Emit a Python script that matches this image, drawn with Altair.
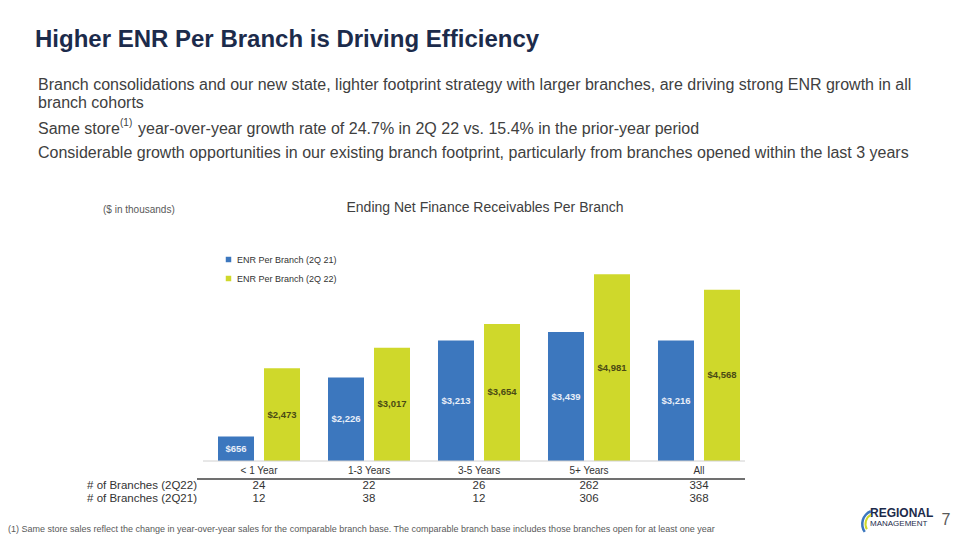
import altair as alt
import pandas as pd

# ---- data -------------------------------------------------------------
categories = ["< 1 Year", "1-3 Years", "3-5 Years", "5+ Years", "All"]
series = ["ENR Per Branch (2Q 21)", "ENR Per Branch (2Q 22)"]
enr_2q21 = [656, 2226, 3213, 3439, 3216]
enr_2q22 = [2473, 3017, 3654, 4981, 4568]
branches_2q22 = [24, 22, 26, 262, 334]
branches_2q21 = [12, 38, 12, 306, 368]
row_labels = ["# of Branches (2Q22)", "# of Branches (2Q21)"]

title_text = "Higher ENR Per Branch is Driving Efficiency"
bullets = [
    "Branch consolidations and our new state, lighter footprint strategy with larger branches, are driving strong ENR growth in all",
    "branch cohorts",
    "Considerable growth opportunities in our existing branch footprint, particularly from branches opened within the last 3 years",
]
same_store = ["Same store", "(1)", "year-over-year growth rate of 24.7% in 2Q 22 vs. 15.4% in the prior-year period"]
chart_title = "Ending Net Finance Receivables Per Branch"
units_note = "($ in thousands)"
footnote = ("(1) Same store sales reflect the change in year-over-year sales for the comparable branch base. "
            "The comparable branch base includes those branches open for at least one year")
page_number = "7"

BLUE = "#3c77be"
GREEN = "#cfd82b"
NAVY = "#1c2b4b"
FONT = "Liberation Sans"

bars_df = pd.DataFrame(
    [{"category": c, "series": series[0], "value": v} for c, v in zip(categories, enr_2q21)]
    + [{"category": c, "series": series[1], "value": v} for c, v in zip(categories, enr_2q22)]
)
table_df = pd.DataFrame({"category": categories, "n22": branches_2q22, "n21": branches_2q21})

# plot-area origin on the page
OX, OY = 204, 236

x_enc = alt.X(
    "category:N",
    sort=categories,
    scale=alt.Scale(paddingInner=0.2545, paddingOuter=0.1273),
    axis=alt.Axis(title=None, domain=False, ticks=False, labelAngle=0,
                  labelFontSize=10, labelColor="#333333", labelPadding=4,
                  labelFont=FONT),
)
xo_enc = alt.XOffset("series:N", sort=series,
                     scale=alt.Scale(paddingInner=0.2174, paddingOuter=0))
y_enc = alt.Y("value:Q", scale=alt.Scale(domain=[0, 6000], nice=False), axis=None)

bars = alt.Chart(bars_df).mark_bar().encode(
    x=x_enc,
    xOffset=xo_enc,
    y=y_enc,
    color=alt.Color(
        "series:N",
        sort=series,
        scale=alt.Scale(domain=series, range=[BLUE, GREEN]),
        legend=alt.Legend(
            title=None, orient="none", legendX=20, legendY=19,
            symbolType="square", symbolSize=30, symbolStrokeWidth=0,
            labelFontSize=9, labelColor="#333333", labelFont=FONT,
            rowPadding=9,
        ),
    ),
)

value_labels = alt.Chart(bars_df).transform_calculate(
    mid="datum.value / 2"
).mark_text(fontSize=9.5, fontWeight="bold", font=FONT).encode(
    x=x_enc,
    xOffset=xo_enc,
    y=alt.Y("mid:Q", scale=alt.Scale(domain=[0, 6000], nice=False), axis=None),
    text=alt.Text("value:Q", format="$,d"),
    color=alt.condition(alt.datum.series == series[0],
                        alt.value("#e8eef8"), alt.value("#4a4a14")),
)

# light baseline and the darker rule above the branch-count table
baseline = alt.Chart(pd.DataFrame({"k": [0]})).mark_rule(color="#d0d0d0", strokeWidth=1).encode(
    x=alt.value(-1), x2=alt.value(541), y=alt.value(225)
)
table_rule = alt.Chart(pd.DataFrame({"k": [0]})).mark_rule(color="#404040", strokeWidth=1.5).encode(
    x=alt.value(-7), x2=alt.value(541), y=alt.value(243)
)

row22 = alt.Chart(table_df).mark_text(fontSize=11.5, color="#333333", font=FONT).encode(
    x=x_enc, y=alt.value(486 - OY), text="n22:Q"
)
row21 = alt.Chart(table_df).mark_text(fontSize=11.5, color="#333333", font=FONT).encode(
    x=x_enc, y=alt.value(499 - OY), text="n21:Q"
)


def page_text(text, px, py, **kw):
    return alt.Chart(alt.Data(values=[{"t": text}])).mark_text(
        font=kw.pop("font", FONT), **kw
    ).encode(x=alt.value(px - OX), y=alt.value(py - OY), text="t:N")


row_label_layers = [
    page_text(row_labels[0], 197, 486, fontSize=11.5, color="#333333", align="right"),
    page_text(row_labels[1], 197, 499, fontSize=11.5, color="#333333", align="right"),
]

text_layers = [
    page_text(title_text, 35, 40, fontSize=24, fontWeight="bold", color=NAVY, align="left"),
    page_text(bullets[0], 38, 85, fontSize=16, color="#404040", align="left"),
    page_text(bullets[1], 38, 103, fontSize=16, color="#404040", align="left"),
    page_text(same_store[0], 38, 129, fontSize=16, color="#404040", align="left"),
    page_text(same_store[1], 120, 123, fontSize=10, color="#404040", align="left"),
    page_text(same_store[2], 138, 129, fontSize=16, color="#404040", align="left"),
    page_text(bullets[2], 38, 153, fontSize=16, color="#404040", align="left"),
    page_text(chart_title, 485, 208, fontSize=14, color="#404040", align="center"),
    page_text(units_note, 103, 210, fontSize=10, color="#595959", align="left"),
    page_text(footnote, 8, 529, fontSize=9, color="#595959", align="left"),
    page_text(page_number, 946, 520, fontSize=16, color="#595959", align="center"),
    # company wordmark
    page_text("REGIONAL", 870, 513, fontSize=12, fontWeight="bold", color=NAVY, align="left"),
    page_text("MANAGEMENT", 870, 524, fontSize=8, color=NAVY, align="left"),
]

swoosh = [
    alt.Chart(alt.Data(values=[{"k": 0}])).mark_arc(
        radius=15, radius2=12.5, theta=4.1, theta2=5.9, color=BLUE
    ).encode(x=alt.value(876 - OX), y=alt.value(524 - OY)),
    alt.Chart(alt.Data(values=[{"k": 0}])).mark_arc(
        radius=11.5, radius2=9.5, theta=4.2, theta2=5.8, color=GREEN
    ).encode(x=alt.value(876 - OX), y=alt.value(524 - OY)),
]

chart = alt.layer(
    bars, value_labels, baseline, table_rule, row22, row21,
    *row_label_layers, *text_layers, *swoosh
).properties(
    width=550,
    height=225,
    autosize=alt.AutoSizeParams(type="none"),
    padding={"left": OX, "top": OY, "right": 960 - OX - 550, "bottom": 540 - OY - 225},
    background="white",
).configure_view(stroke=None)

chart.save("out.html", embed_options={"renderer": "svg", "actions": False})
